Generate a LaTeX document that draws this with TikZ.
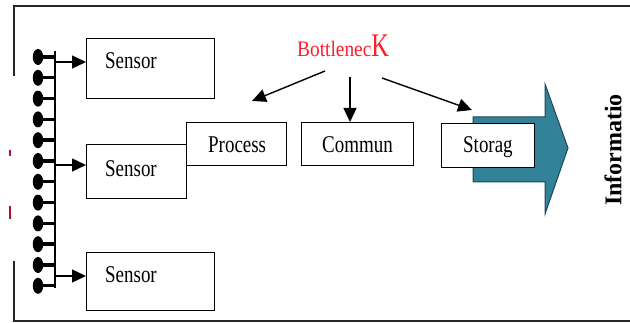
\documentclass[tikz,border=0pt]{standalone}
\usepackage{fontspec}
\setmainfont{Liberation Serif}
\newfontfamily\narrowserif[FakeStretch=0.79]{Liberation Serif}
\newfontfamily\neckserif[FakeStretch=0.88]{Liberation Serif}
\newfontfamily\neckbig[FakeStretch=0.74]{Liberation Serif}
\usetikzlibrary{arrows.meta,shapes.geometric}
\definecolor{flowteal}{RGB}{49,130,153}
\definecolor{flowedge}{RGB}{30,70,85}
\definecolor{markred}{RGB}{170,20,40}
\definecolor{neckred}{RGB}{255,30,40}
\begin{document}
\begin{tikzpicture}[x=1pt,y=-1pt,
  frame/.style={draw=black!85,line width=1.6pt},
  box/.style={draw,line width=1.1pt,rectangle,inner sep=0pt,anchor=north west,fill=white},
  txt/.style={inner sep=0pt,anchor=base west,font=\narrowserif\fontsize{24}{26}\selectfont},
  arr/.style={line width=1.4pt,-{Triangle[length=14pt,width=13pt]}},
  pin/.style={ellipse,fill=black,minimum width=10.5pt,minimum height=16pt,inner sep=0pt},
  stub/.style={line width=3.4pt},
  bus/.style={line width=1.6pt}]
\useasboundingbox (0,0) rectangle (630,323);

% outer frame, open on the left side
\draw[frame] (14,76) -- (14,6) -- (630,6);
\draw[frame] (14,261) -- (14,321) -- (630,321);

% stray marks on the left edge
\draw[markred,line width=1.2pt] (10,150) -- (10,156);
\draw[markred,line width=1.4pt] (10,206) -- (10,219);

% sensor bus with its pins
\coordinate (bustop) at (55,51);
\coordinate (busbot) at (55,288);
\draw[bus] (bustop) -- (busbot);
\foreach \i in {0,...,11}{
  \node[pin] (p\i) at (38,{57+20.8*\i}) {};
  \draw[stub] (p\i.center) -- (p\i.center -| bustop);
}

% sensor boxes
\node[box,minimum width=128pt,minimum height=60pt] (s1) at (86,38) {};
\node[box,minimum width=100pt,minimum height=54pt] (s2) at (86,144) {};
\node[box,minimum width=128pt,minimum height=58pt] (s3) at (86,252) {};
\node[txt] (s1t) at (105,69) {Sensor};
\node[txt] (s2t) at (105,177) {Sensor};
\node[txt] (s3t) at (105,283) {Sensor};

% bus to sensors
\coordinate (b1) at (55,62);
\coordinate (b2) at (55,165);
\coordinate (b3) at (55,276);
\draw[arr] (b1) -- (b1 -| s1.west);
\draw[arr] (b2) -- (b2 -| s2.west);
\draw[arr] (b3) -- (b3 -| s3.west);

% information flow arrow
\path[fill=flowteal,draw=flowedge,line width=1pt]
  (473,117) -- (545,117) -- (545,84) -- (568,148) -- (545,214) -- (545,182) -- (473,182) -- cycle;
\node[inner sep=0pt,rotate=90,font=\bfseries\fontsize{24}{26}\selectfont] (info) at (613,150) {Informatio};

% processing stages
\node[box,minimum width=100pt,minimum height=43pt] (proc) at (186,122) {};
\node[box,minimum width=112pt,minimum height=43pt] (comm) at (301,122) {};
\node[box,minimum width=93pt,minimum height=44pt] (stor) at (441,123) {};
\node[txt] (proct) at (208,153) {Process};
\node[txt] (commt) at (322,153) {Commun};
\node[txt] (stort) at (463,153) {Storag};

% bottleneck label and its arrows
\node[inner sep=0pt,anchor=base west,text=neckred,font=\neckserif\fontsize{22}{24}\selectfont] (neck) at (297,57)
  {Bottlenec{\neckbig\fontsize{33}{35}\selectfont K}};
\coordinate (n1) at (325,71);
\coordinate (n2) at (350,77);
\coordinate (n3) at (382,78);
\coordinate (t1) at (252,101);
\coordinate (t3) at (472,110);
\draw[arr] (n1) -- (t1);
\draw[arr] (n2) -- (n2 |- comm.north);
\draw[arr] (n3) -- (t3);
\end{tikzpicture}
\end{document}
